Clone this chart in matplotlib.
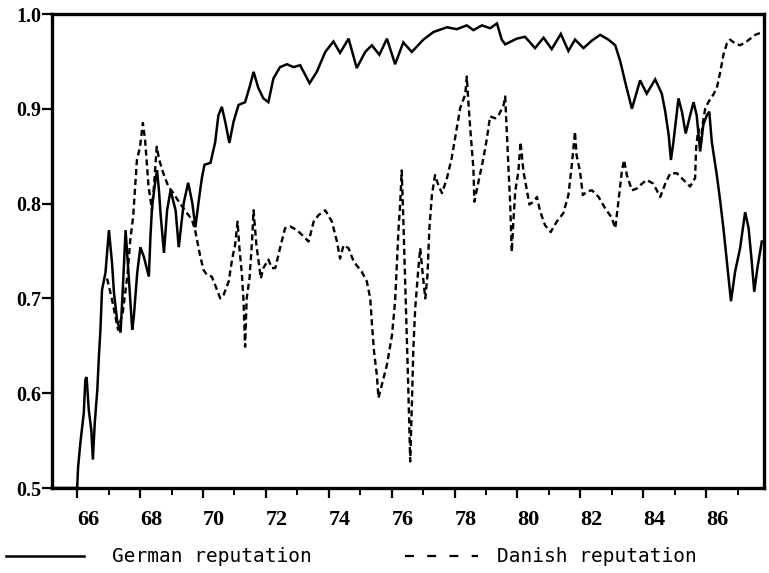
import matplotlib
matplotlib.use("Agg")
import matplotlib.pyplot as plt
from matplotlib.lines import Line2D
from matplotlib.ticker import MultipleLocator, FixedLocator

german_x = [65.2, 66.0, 66.03, 66.1, 66.21, 66.26, 66.3, 66.37, 66.45, 66.5, 66.56, 66.64, 66.69,
            66.74, 66.79, 66.9, 67.01, 67.11, 67.17, 67.27, 67.38, 67.45, 67.54, 67.64, 67.75,
            67.8, 67.91, 68.01, 68.12, 68.28, 68.33, 68.38, 68.49, 68.54, 68.6, 68.65, 68.76,
            68.86, 68.97, 69.13, 69.23, 69.39, 69.53, 69.66, 69.76, 69.87, 69.97, 70.05, 70.24,
            70.39, 70.49, 70.6, 70.71, 70.84, 70.97, 71.13, 71.34, 71.5, 71.61, 71.76, 71.92,
            72.08, 72.24, 72.45, 72.67, 72.88, 73.09, 73.39, 73.62, 73.89, 74.15, 74.36, 74.63,
            74.89, 75.16, 75.37, 75.61, 75.85, 76.11, 76.37, 76.64, 77.01, 77.33, 77.76, 78.07,
            78.39, 78.6, 78.87, 79.13, 79.35, 79.5, 79.61, 79.98, 80.24, 80.56, 80.83, 81.09,
            81.38, 81.62, 81.83, 82.1, 82.37, 82.63, 82.89, 83.11, 83.27, 83.42, 83.64, 83.9,
            84.11, 84.38, 84.59, 84.7, 84.81, 84.88, 84.96, 85.12, 85.23, 85.35, 85.49, 85.6,
            85.7, 85.81, 85.91, 86.02, 86.1, 86.18, 86.34, 86.45, 86.55, 86.66, 86.79, 86.92,
            87.08, 87.24, 87.35, 87.45, 87.53, 87.63, 87.77]
german_y = [0.500, 0.500, 0.522, 0.547, 0.579, 0.614, 0.617, 0.582, 0.561, 0.530, 0.569, 0.603, 0.638,
            0.667, 0.709, 0.727, 0.772, 0.737, 0.706, 0.677, 0.664, 0.709, 0.772, 0.723, 0.667,
            0.680, 0.727, 0.754, 0.744, 0.723, 0.765, 0.796, 0.825, 0.835, 0.814, 0.790, 0.748,
            0.793, 0.814, 0.793, 0.754, 0.801, 0.822, 0.801, 0.775, 0.804, 0.828, 0.841, 0.843,
            0.865, 0.893, 0.902, 0.886, 0.864, 0.886, 0.904, 0.907, 0.925, 0.939, 0.922, 0.911,
            0.907, 0.932, 0.944, 0.947, 0.944, 0.946, 0.927, 0.939, 0.960, 0.971, 0.959, 0.974,
            0.943, 0.960, 0.967, 0.957, 0.974, 0.947, 0.970, 0.960, 0.973, 0.981, 0.986, 0.984,
            0.988, 0.983, 0.988, 0.985, 0.990, 0.973, 0.968, 0.974, 0.976, 0.964, 0.975, 0.963,
            0.979, 0.961, 0.973, 0.964, 0.972, 0.978, 0.973, 0.967, 0.950, 0.929, 0.900, 0.930,
            0.916, 0.931, 0.916, 0.897, 0.872, 0.846, 0.865, 0.911, 0.897, 0.874, 0.893, 0.907,
            0.893, 0.855, 0.883, 0.893, 0.897, 0.865, 0.830, 0.802, 0.774, 0.739, 0.697, 0.728,
            0.753, 0.791, 0.774, 0.739, 0.707, 0.732, 0.760]

danish_x = [66.95, 67.1, 67.3, 67.45, 67.6, 67.69, 67.78, 67.9, 68.0, 68.09, 68.16, 68.27, 68.38,
            68.45, 68.53, 68.61, 68.74, 68.9, 69.06, 69.27, 69.49, 69.65, 69.75, 69.91, 70.02,
            70.12, 70.28, 70.39, 70.55, 70.66, 70.82, 70.93, 71.02, 71.1, 71.16, 71.24, 71.29,
            71.34, 71.39, 71.48, 71.56, 71.61, 71.7, 71.77, 71.84, 71.92, 72.08, 72.19, 72.3,
            72.45, 72.61, 72.77, 72.99, 73.15, 73.36, 73.52, 73.68, 73.89, 74.1, 74.26, 74.36,
            74.47, 74.63, 74.79, 75.05, 75.21, 75.32, 75.37, 75.44, 75.53, 75.58, 75.69, 75.85,
            76.01, 76.11, 76.17, 76.22, 76.27, 76.32, 76.38, 76.43, 76.48, 76.53, 76.59, 76.64,
            76.69, 76.75, 76.85, 76.91, 76.99, 77.07, 77.14, 77.2, 77.28, 77.38, 77.49, 77.6,
            77.76, 77.91, 78.07, 78.18, 78.34, 78.39, 78.44, 78.5, 78.6, 78.63, 78.76, 78.92,
            79.03, 79.13, 79.29, 79.4, 79.56, 79.61, 79.66, 79.72, 79.77, 79.82, 79.87, 79.93,
            80.03, 80.1, 80.19, 80.29, 80.38, 80.51, 80.62, 80.72, 80.88, 81.06, 81.25, 81.46,
            81.62, 81.73, 81.83, 81.88, 81.99, 82.08, 82.22, 82.37, 82.58, 82.79, 83.0, 83.11,
            83.21, 83.32, 83.39, 83.48, 83.64, 83.8, 83.96, 84.11, 84.32, 84.54, 84.7, 84.86,
            85.07, 85.28, 85.49, 85.65, 85.68, 85.75, 85.81, 85.9, 85.97, 86.07, 86.23, 86.34,
            86.45, 86.55, 86.66, 86.76, 86.92, 87.08, 87.29, 87.56, 87.72, 87.82]
danish_y = [0.721, 0.700, 0.667, 0.685, 0.725, 0.762, 0.786, 0.846, 0.860, 0.885, 0.867, 0.818, 0.793,
            0.822, 0.860, 0.846, 0.832, 0.818, 0.811, 0.800, 0.790, 0.783, 0.772, 0.745, 0.730,
            0.725, 0.723, 0.714, 0.700, 0.704, 0.718, 0.742, 0.756, 0.781, 0.753, 0.725, 0.697,
            0.649, 0.700, 0.721, 0.760, 0.793, 0.756, 0.739, 0.721, 0.732, 0.741, 0.732, 0.732,
            0.753, 0.774, 0.776, 0.772, 0.767, 0.760, 0.781, 0.788, 0.793, 0.781, 0.760, 0.742,
            0.756, 0.753, 0.739, 0.728, 0.718, 0.700, 0.675, 0.644, 0.619, 0.595, 0.609, 0.630,
            0.661, 0.697, 0.739, 0.774, 0.799, 0.835, 0.774, 0.718, 0.665, 0.605, 0.528, 0.584,
            0.647, 0.690, 0.732, 0.753, 0.725, 0.700, 0.725, 0.774, 0.809, 0.830, 0.819, 0.811,
            0.827, 0.848, 0.879, 0.901, 0.915, 0.934, 0.907, 0.879, 0.837, 0.802, 0.823, 0.848,
            0.869, 0.892, 0.890, 0.893, 0.904, 0.913, 0.876, 0.834, 0.799, 0.749, 0.781, 0.813,
            0.834, 0.865, 0.834, 0.816, 0.799, 0.802, 0.807, 0.792, 0.777, 0.770, 0.781, 0.790,
            0.809, 0.841, 0.876, 0.851, 0.834, 0.809, 0.813, 0.814, 0.807, 0.795, 0.785, 0.774,
            0.802, 0.834, 0.846, 0.830, 0.814, 0.816, 0.821, 0.825, 0.821, 0.807, 0.821, 0.832,
            0.832, 0.825, 0.818, 0.827, 0.858, 0.879, 0.862, 0.886, 0.900, 0.907, 0.915, 0.922,
            0.939, 0.957, 0.969, 0.973, 0.969, 0.967, 0.971, 0.978, 0.980, 0.981]

x_major = [66, 68, 70, 72, 74, 76, 78, 80, 82, 84, 86]
y_ticks = [0.5, 0.6, 0.7, 0.8, 0.9, 1.0]
y_labels = ["0.5", "0.6", "0.7", "0.8", "0.9", "1.0"]
series_labels = ["German reputation", "Danish reputation"]

fig = plt.figure(figsize=(7.69, 5.73), dpi=100)
ax = fig.add_axes([52 / 769, 1 - 488 / 573, (764 - 52) / 769, (488 - 14) / 573])

ax.plot(german_x, german_y, color="black", lw=1.8, solid_joinstyle="miter")
ax.plot(danish_x, danish_y, color="black", lw=1.7, linestyle=(0, (2.6, 1.6)))

ax.set_xlim(65.2, 87.84)
ax.set_ylim(0.5, 1.0)

for s in ax.spines.values():
    s.set_linewidth(2.4)
    s.set_color("black")

ax.xaxis.set_major_locator(FixedLocator(x_major))
ax.xaxis.set_minor_locator(MultipleLocator(1))
ax.set_xticklabels([str(v) for v in x_major])
ax.set_yticks(y_ticks)
ax.set_yticklabels(y_labels)

ax.tick_params(axis="x", which="major", direction="out", length=7, width=1.6, pad=9)
ax.tick_params(axis="x", which="minor", direction="out", length=5, width=1.4)
ax.tick_params(axis="y", which="major", direction="out", length=7, width=1.6, pad=1)
for lab in ax.get_xticklabels():
    lab.set_fontfamily("Liberation Serif")
    lab.set_fontweight("bold")
    lab.set_fontsize(16)
    lab.set_horizontalalignment("left")
for lab in ax.get_yticklabels():
    lab.set_fontfamily("Liberation Serif")
    lab.set_fontweight("bold")
    lab.set_fontsize(14.5)

# legend below the axes
ly = 1 - 556 / 573
fig.add_artist(Line2D([6 / 769, 84 / 769], [ly, ly], color="black", lw=1.8))
fig.text(112 / 769, ly, series_labels[0], fontfamily="DejaVu Sans Mono", fontsize=14,
         va="center", ha="left")
fig.add_artist(Line2D([405 / 769, 478 / 769], [ly, ly], color="black", lw=1.6,
                      linestyle=(0, (4, 6))))
fig.text(497 / 769, ly, series_labels[1], fontfamily="DejaVu Sans Mono", fontsize=14,
         va="center", ha="left")

fig.savefig("out.png", dpi=100)
